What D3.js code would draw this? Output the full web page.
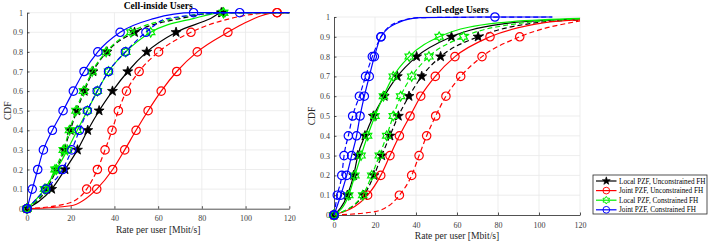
<!DOCTYPE html>
<html>
<head>
<meta charset="utf-8">
<script src="https://cdn.jsdelivr.net/npm/d3@7"></script>
<style>
  body { margin: 0; background: #fff; }
  text { font-family: "Liberation Serif", "Times New Roman", serif; }
</style>
</head>
<body>
<svg id="chart" width="718" height="242"></svg>
<script>
// tick values
var rateTicks = [0, 20, 40, 60, 80, 100, 120];
var cdfTicks = [0, 0.1, 0.2, 0.3, 0.4, 0.5, 0.6, 0.7, 0.8, 0.9, 1];

var legendNames = ["Local PZF, Unconstrained FH", "Joint PZF, Unconstrained FH",
                   "Local PZF, Constrained FH", "Joint PZF, Constrained FH"];

// Cell-inside users, [rate Mbit/s, CDF]
var inLocalUnc      = [[0,0],[11.3,.1],[17.4,.2],[23.1,.3],[27.8,.4],[33,.5],[39.1,.6],[46.1,.7],[54.8,.8],[68.2,.9],[84,.97],[89.3,1],[120,1]];
var inLocalUncDash  = [[0,0],[9,.1],[13.5,.2],[17,.3],[19.8,.4],[22.8,.5],[26.2,.6],[30.2,.7],[36.6,.8],[49.2,.9],[70,.97],[88.9,1],[120,1]];
var inJointUnc      = [[0,0],[20,.015],[31.9,.1],[39.2,.2],[44.7,.3],[49.9,.4],[55.4,.5],[61.4,.6],[68.5,.7],[77.9,.8],[91.9,.9],[100,.95],[114.4,1],[120,1]];
var inJointUncDash  = [[0,0],[18,.025],[27.3,.1],[32.2,.2],[35.7,.3],[38.9,.4],[41.8,.5],[45.5,.6],[51.3,.7],[60.2,.8],[75,.9],[93,.97],[114.4,1],[120,1]];
var inLocalCon      = [[0,0],[8,.1],[13.5,.2],[18.5,.3],[23,.4],[27.6,.5],[32.2,.6],[37.3,.7],[45.2,.8],[56.6,.9],[76,.97],[89.9,1],[120,1]];
var inLocalConDash  = [[0,0],[8.4,.1],[12.8,.2],[16.6,.3],[19.4,.4],[22.4,.5],[25.8,.6],[29.8,.7],[36.2,.8],[47.5,.9],[67,.97],[89.9,1],[120,1]];
var inJointCon      = [[0,0],[2.4,.1],[4.9,.2],[7.5,.3],[11.6,.4],[16.5,.5],[21.2,.6],[26.1,.7],[32.4,.8],[42.6,.9],[58,.97],[76.2,1],[120,1]];
var inJointConDash  = [[0,0],[8.6,.1],[16.3,.2],[20.5,.3],[24,.4],[27.6,.5],[32.1,.6],[37.3,.7],[45,.8],[54.4,.9],[64,.97],[97.3,1],[120,1]];

// Cell-edge users, [rate Mbit/s, CDF]
var edLocalUnc      = [[0,0],[6.5,.1],[9.6,.2],[11.6,.3],[15.1,.4],[19.2,.5],[24.5,.6],[30.9,.7],[40.3,.8],[57.3,.9],[86,.97],[120,.99]];
var edLocalUncDash  = [[0,0],[14.5,.1],[19.5,.2],[23.3,.3],[27.3,.4],[31.4,.5],[36.6,.6],[42.8,.7],[52,.8],[70.3,.9],[98,.97],[120,.985]];
var edJointUnc      = [[0,0],[16.4,.1],[22.8,.2],[27.3,.3],[31.9,.4],[37.1,.5],[42.3,.6],[49.4,.7],[59,.8],[76.1,.9],[102,.97],[120,.985]];
var edJointUncDash  = [[0,0],[20,.017],[31.9,.1],[37.9,.2],[41.5,.3],[45.2,.4],[49.6,.5],[54.6,.6],[61.8,.7],[72.2,.8],[90.6,.9],[120,.98]];
var edLocalCon      = [[0,0],[7.2,.1],[10.2,.2],[13.2,.3],[16.4,.4],[20,.5],[24.1,.6],[28.9,.7],[36.7,.8],[51.3,.9],[80,.97],[120,.993]];
var edLocalConDash  = [[0,0],[14,.1],[18.4,.2],[22.1,.3],[25.7,.4],[28.9,.5],[32.5,.6],[37.9,.7],[46.3,.8],[63.1,.9],[92,.97],[120,.99]];
var edJointCon      = [[0,0],[3.3,.1],[6.2,.2],[8.6,.3],[11,.4],[12.7,.5],[14.8,.6],[17.2,.7],[19.7,.8],[22.9,.9],[31,.97],[42,.997],[78.5,1],[106.5,1]];
var edJointConDash  = [[0,0],[1.6,.1],[3.8,.2],[4.9,.3],[7,.4],[9.1,.5],[12.4,.6],[15.4,.7],[18.7,.8],[22.9,.9],[30,.97],[42,.997],[106.5,1]];

var colors = ["#000000", "#ff0000", "#00ee00", "#0000ff"];
var markers = ["pentagram", "circle", "hexagram", "circle"];

var panels = [
  { title: "Cell-inside Users", left: 27, right: 289.3, top: 12.7, bottom: 208.7, ylabOff: 19,
    solid: [inLocalUnc, inJointUnc, inLocalCon, inJointCon],
    dashed: [inLocalUncDash, inJointUncDash, inLocalConDash, inJointConDash] },
  { title: "Cell-edge Users", left: 334, right: 580, top: 17, bottom: 215, ylabOff: 22,
    solid: [edLocalUnc, edJointUnc, edLocalCon, edJointCon],
    dashed: [edLocalUncDash, edJointUncDash, edLocalConDash, edJointConDash] }
];

var svg = d3.select("#chart");

function starPath(n, R, r) {
  var pts = [];
  for (var i = 0; i < 2 * n; i++) {
    var a = -Math.PI / 2 + i * Math.PI / n;
    var rad = i % 2 === 0 ? R : r;
    pts.push([rad * Math.cos(a), rad * Math.sin(a)]);
  }
  return "M" + pts.map(p => p[0].toFixed(2) + "," + p[1].toFixed(2)).join("L") + "Z";
}

function drawMarker(sel, type, color) {
  if (type === "circle") {
    sel.append("circle").attr("r", 4.2).attr("fill", "none")
      .attr("stroke", color).attr("stroke-width", 1.2);
  } else if (type === "pentagram") {
    sel.append("path").attr("d", starPath(5, 5.2, 2.1)).attr("fill", color)
      .attr("stroke", color).attr("stroke-width", 0.8);
  } else {
    sel.append("path").attr("d", starPath(6, 4.8, 2.8)).attr("fill", "none")
      .attr("stroke", color).attr("stroke-width", 1.2);
  }
}

function isMarkerPoint(d, i, arr) {
  var k = d[1] * 10;
  return i < arr.length - 1 && Math.abs(k - Math.round(k)) < 1e-9;
}

panels.forEach(function(p) {
  var x = d3.scaleLinear().domain([0, 120]).range([p.left, p.right]);
  var y = d3.scaleLinear().domain([0, 1]).range([p.bottom, p.top]);
  var g = svg.append("g");

  // grid
  g.append("g").selectAll("line").data(rateTicks.slice(1)).enter().append("line")
    .attr("x1", d => x(d)).attr("x2", d => x(d))
    .attr("y1", y(0)).attr("y2", y(1))
    .attr("stroke", "#e8e8e8").attr("stroke-width", 0.8);
  g.append("g").selectAll("line").data(cdfTicks.slice(1)).enter().append("line")
    .attr("x1", x(0)).attr("x2", x(120))
    .attr("y1", d => y(d)).attr("y2", d => y(d))
    .attr("stroke", "#e8e8e8").attr("stroke-width", 0.8);

  // axes
  var xAxis = g.append("g")
    .attr("transform", `translate(0,${p.bottom})`)
    .call(d3.axisBottom(x).tickValues(rateTicks).tickFormat(d => String(d))
      .tickSizeInner(-2.5).tickSizeOuter(0).tickPadding(7));
  var yAxis = g.append("g")
    .attr("transform", `translate(${p.left},0)`)
    .call(d3.axisLeft(y).tickValues(cdfTicks).tickFormat(d => String(d))
      .tickSizeInner(-2.5).tickSizeOuter(0).tickPadding(4));
  [xAxis, yAxis].forEach(function(a) {
    a.attr("font-family", null).attr("font-size", null);
    a.select(".domain").attr("stroke", "#262626").attr("stroke-width", 0.8);
    a.selectAll(".tick line").attr("stroke", "#262626").attr("stroke-width", 0.8);
    a.selectAll(".tick text").attr("fill", "#404040").style("font-size", "8px");
  });

  var line = d3.line().x(d => x(d[0])).y(d => y(d[1])).curve(d3.curveMonotoneX);

  // series: dashed then solid, per colour
  for (var s = 0; s < 4; s++) {
    [p.dashed[s], p.solid[s]].forEach(function(data, k) {
      g.append("path").datum(data)
        .attr("d", line)
        .attr("fill", "none")
        .attr("stroke", colors[s])
        .attr("stroke-width", 1.2)
        .attr("stroke-dasharray", k === 0 ? "5,3" : null);
      var mk = g.append("g").selectAll("g")
        .data(data.filter(isMarkerPoint))
        .enter().append("g")
        .attr("transform", d => `translate(${x(d[0])},${y(d[1])})`);
      drawMarker(mk, markers[s], colors[s]);
    });
  }

  // title and labels
  g.append("text")
    .attr("x", (p.left + p.right) / 2).attr("y", p.top - 4)
    .attr("text-anchor", "middle")
    .style("font-size", "9.6px").style("font-weight", "bold")
    .text(p.title);
  g.append("text")
    .attr("x", (p.left + p.right) / 2).attr("y", p.bottom + 24)
    .attr("text-anchor", "middle").attr("fill", "#262626")
    .style("font-size", "9.6px")
    .text("Rate per user [Mbit/s]");
  g.append("text")
    .attr("transform", `translate(${p.left - p.ylabOff},${(p.top + p.bottom) / 2}) rotate(-90)`)
    .attr("text-anchor", "middle").attr("dy", "0.35em").attr("fill", "#262626")
    .style("font-size", "9.6px")
    .text("CDF");
});

// legend
var legend = svg.append("g").attr("transform", "translate(593,175)");
legend.append("rect").attr("width", 114).attr("height", 39)
  .attr("fill", "#fff").attr("stroke", "#262626").attr("stroke-width", 0.8);
legendNames.forEach(function(name, i) {
  var row = legend.append("g").attr("transform", `translate(0,${6 + i * 9.6})`);
  row.append("line").attr("x1", 3).attr("x2", 23.5).attr("y1", 0).attr("y2", 0)
    .attr("stroke", colors[i]).attr("stroke-width", 1.2);
  var m = row.append("g").attr("transform", "translate(13.3,0) scale(0.8)");
  drawMarker(m, markers[i], colors[i]);
  row.append("text").attr("x", 26).attr("y", 0).attr("dy", "0.35em")
    .style("font-size", "7.2px").text(name);
});
</script>
</body>
</html>
